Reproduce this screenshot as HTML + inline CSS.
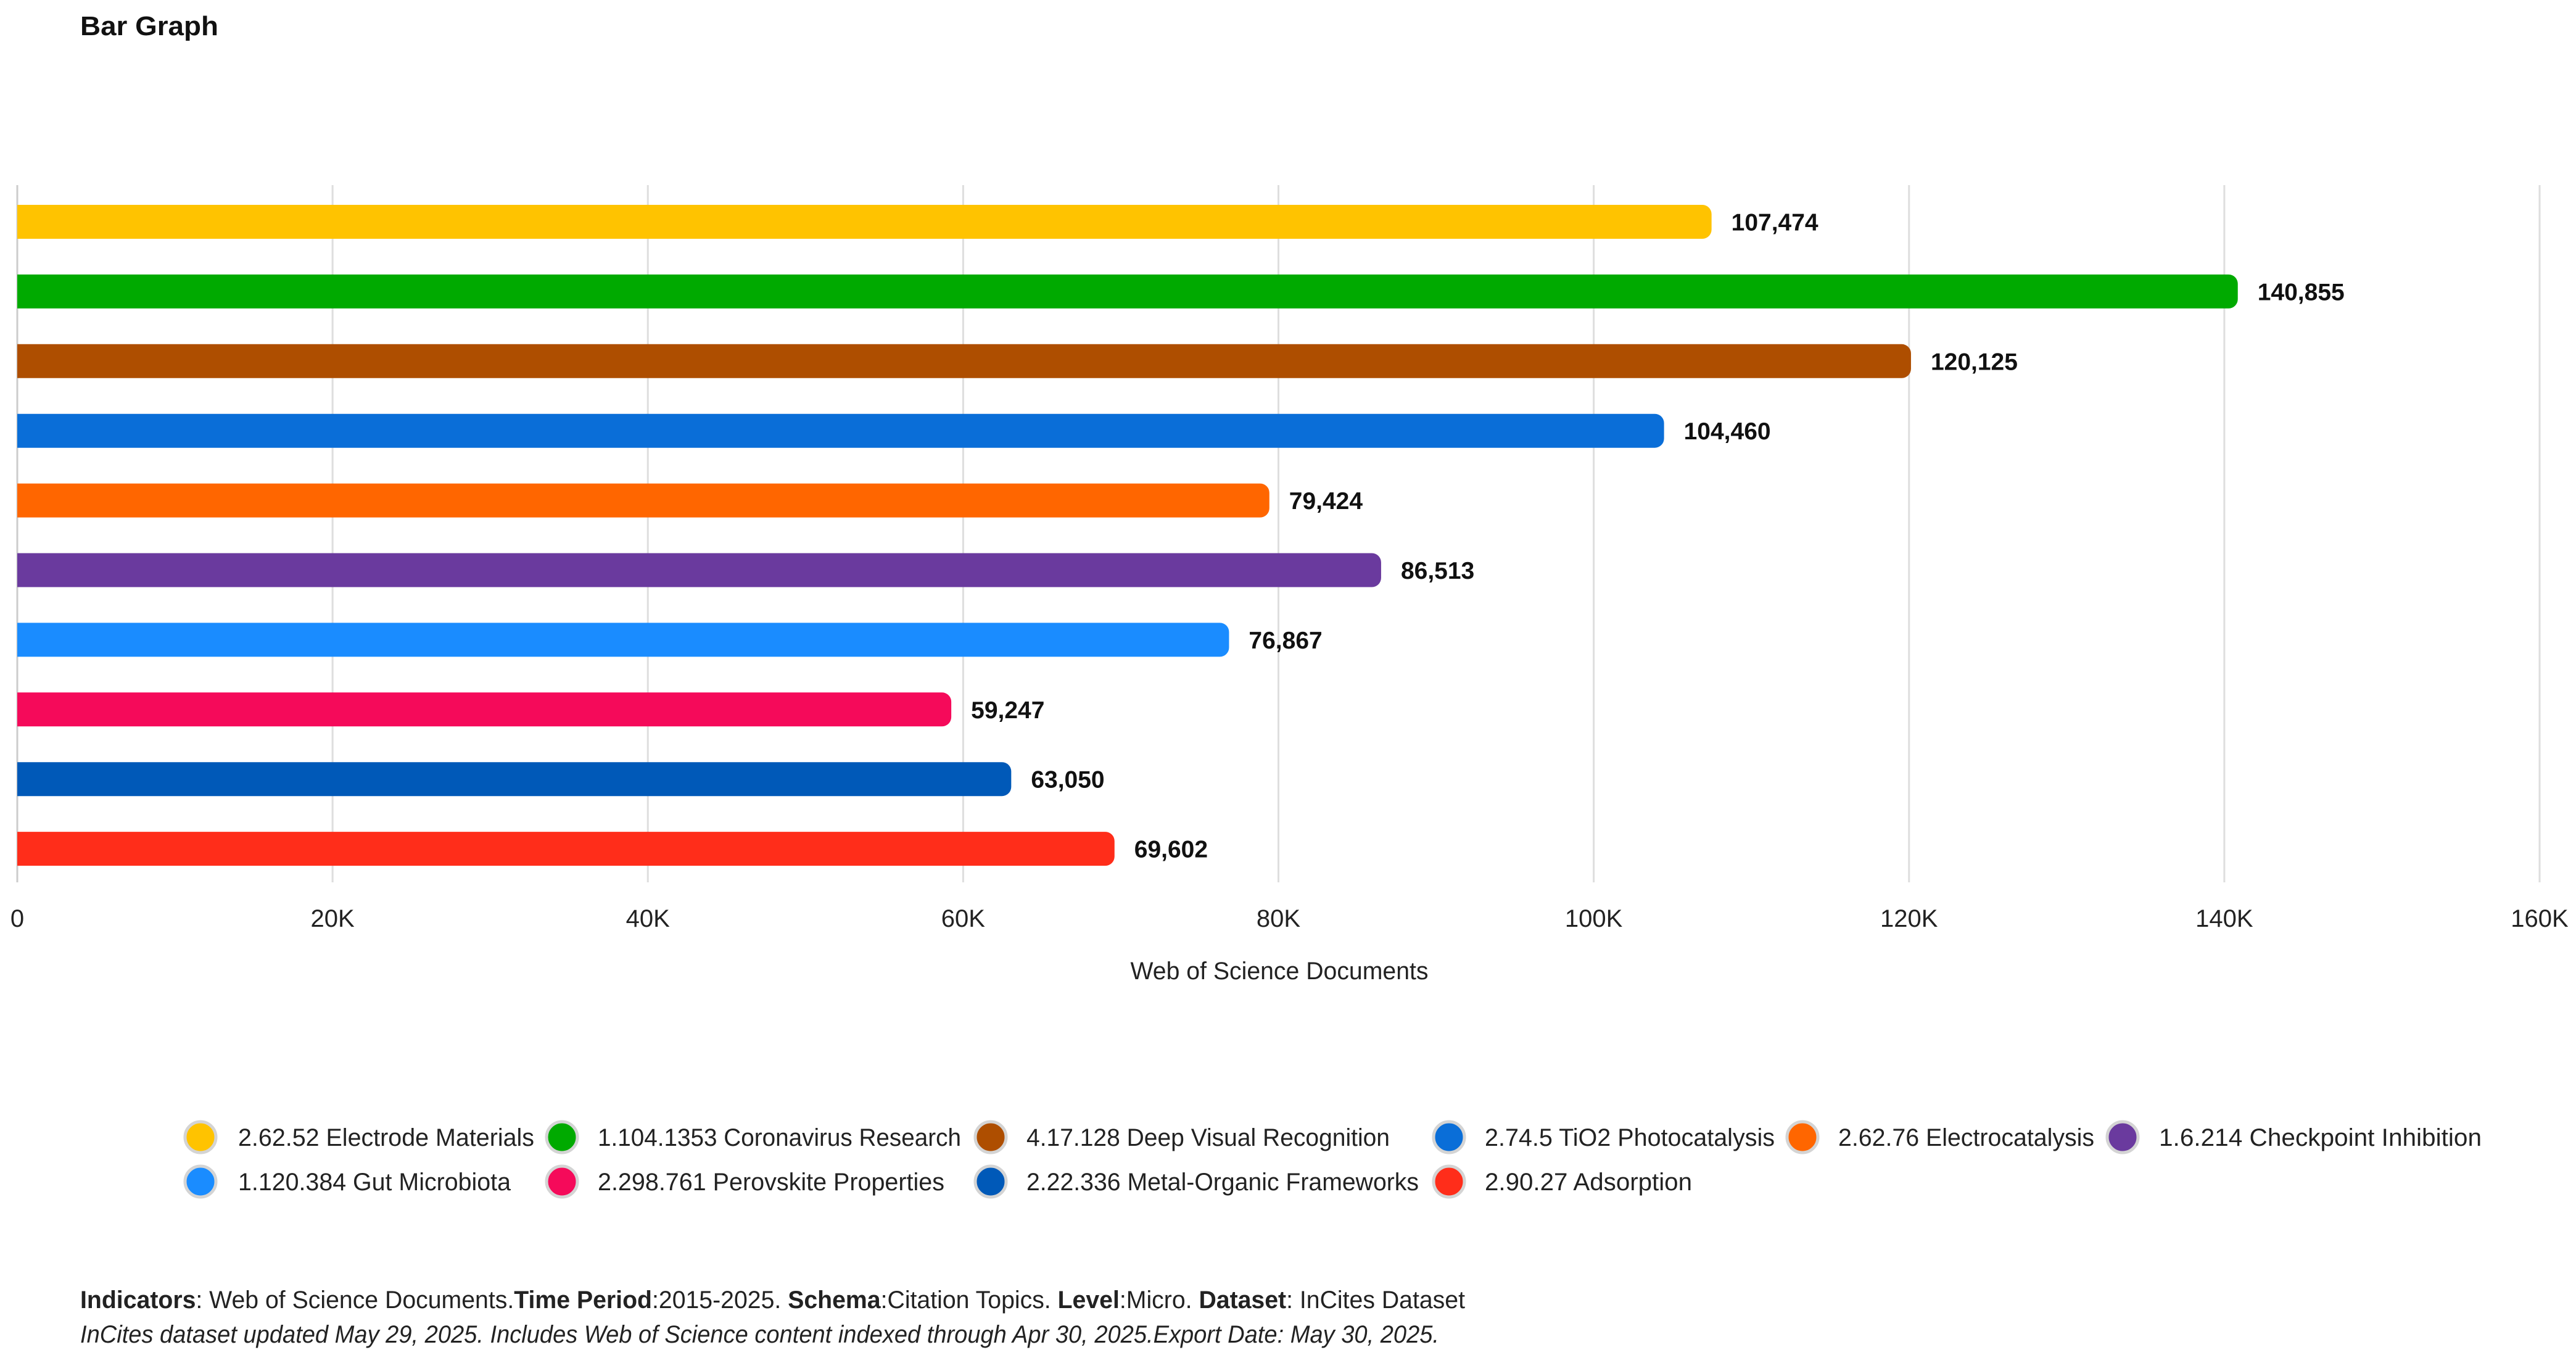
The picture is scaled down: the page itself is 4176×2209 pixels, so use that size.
<!DOCTYPE html>
<html><head><meta charset="utf-8"><style>
html,body{margin:0;padding:0;background:#fff;}
svg{display:block;font-family:"Liberation Sans",sans-serif;}
</style></head><body>
<svg id="chart" width="4176" height="2209" viewBox="0 0 4176 2209" xmlns="http://www.w3.org/2000/svg">
<text x="130" y="57" font-size="44" font-weight="bold" fill="#111" textLength="224" lengthAdjust="spacingAndGlyphs">Bar Graph</text>
<g id="grid"></g>
<g id="bars"></g>
<g id="ticks"></g>
<text x="2074" y="1587" font-size="40" fill="#222" text-anchor="middle" textLength="483" lengthAdjust="spacingAndGlyphs">Web of Science Documents</text>
<g id="legend"></g>
<text x="130" y="2120" font-size="40" fill="#222" textLength="2245" lengthAdjust="spacingAndGlyphs"><tspan font-weight="bold">Indicators</tspan>: Web of Science Documents.<tspan font-weight="bold">Time Period</tspan>:2015-2025. <tspan font-weight="bold">Schema</tspan>:Citation Topics. <tspan font-weight="bold">Level</tspan>:Micro. <tspan font-weight="bold">Dataset</tspan>: InCites Dataset</text>
<text x="130" y="2176" font-size="40" font-style="italic" fill="#222" textLength="2203" lengthAdjust="spacingAndGlyphs">InCites dataset updated May 29, 2025. Includes Web of Science content indexed through Apr 30, 2025.Export Date: May 30, 2025.</text>
</svg>
<script>
const categories = ["2.62.52 Electrode Materials","1.104.1353 Coronavirus Research","4.17.128 Deep Visual Recognition","2.74.5 TiO2 Photocatalysis","2.62.76 Electrocatalysis","1.6.214 Checkpoint Inhibition","1.120.384 Gut Microbiota","2.298.761 Perovskite Properties","2.22.336 Metal-Organic Frameworks","2.90.27 Adsorption"];
const values = [107474,140855,120125,104460,79424,86513,76867,59247,63050,69602];
const valueLabels = ["107,474","140,855","120,125","104,460","79,424","86,513","76,867","59,247","63,050","69,602"];
const colors = ["#FFC300","#00AA00","#AE4E00","#0A6ED8","#FF6600","#6A3A9E","#1A8CFF","#F50A5A","#0059B8","#FF2D1A"];
const tickValues = [0,20000,40000,60000,80000,100000,120000,140000,160000];
const tickLabels = ["0","20K","40K","60K","80K","100K","120K","140K","160K"];

const NS="http://www.w3.org/2000/svg";
const x0=28, x1=4117, xMax=160000;
const xScale=v=>x0+v/xMax*(x1-x0);
const barTop0=332, pitch=112.9, barH=55;
const yScale=i=>barTop0+i*pitch;
function mk(tag,attrs,parent){const e=document.createElementNS(NS,tag);for(const k in attrs)e.setAttribute(k,attrs[k]);parent.appendChild(e);return e;}

const grid=document.getElementById('grid');
const ticks=document.getElementById('ticks');
tickValues.forEach((t,i)=>{
  const x=xScale(t);
  const l=mk('line',{x1:x,x2:x,y1:300,y2:1430,stroke:i===0?'#ccc':'#dedede','stroke-width':3},grid);
  
  
  const tx=mk('text',{x:x,y:1502,'font-size':40,fill:'#222','text-anchor':'middle'},ticks);
  tx.textContent=tickLabels[i];
  
  
});

const bars=document.getElementById('bars');
values.forEach((v,i)=>{
  const y=yScale(i), xe=xScale(v), r=15;
  const p=mk('path',{d:`M${x0},${y}H${xe-r}A${r},${r} 0 0 1 ${xe},${y+r}V${y+barH-r}A${r},${r} 0 0 1 ${xe-r},${y+barH}H${x0}Z`,fill:colors[i]},bars);
  
  
  const t=mk('text',{x:xe+32,y:y+barH/2+14,'font-size':39,'font-weight':'bold',fill:'#111'},bars);
  t.textContent=valueLabels[i];
  
  
});

const legend=document.getElementById('legend');
const legPos=[[325,386,866],[911,969,1558],[1606,1664,2253],[2349,2407,2877],[2922,2980,3395],[3441,3500,4023],[325,386,828],[911,969,1531],[1606,1664,2300],[2349,2407,2743]];
categories.forEach((c,i)=>{
  const row=i<6?0:1, cy=row?1915:1843, p=legPos[i];
  const g=mk('g',{},legend);
  
  
  mk('circle',{cx:p[0],cy:cy,r:25,fill:colors[i],stroke:'#d4d4d4','stroke-width':5},g);
  const t=mk('text',{x:p[1],y:cy+14,'font-size':40,fill:'#222',textLength:p[2]-p[1],lengthAdjust:'spacingAndGlyphs'},g);
  t.textContent=c;
});
</script>
</body></html>
